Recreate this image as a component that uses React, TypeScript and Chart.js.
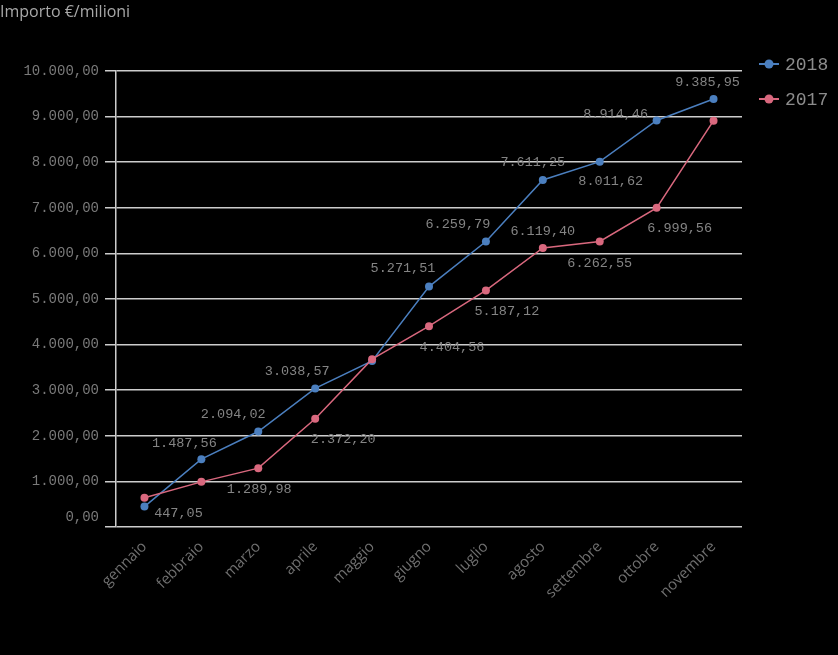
import { useEffect, useRef } from 'react';
import { Chart, registerables } from 'chart.js';
Chart.register(...registerables);

const months = ['gennaio', 'febbraio', 'marzo', 'aprile', 'maggio', 'giugno', 'luglio', 'agosto', 'settembre', 'ottobre', 'novembre'];
const values2018 = [447.05, 1487.56, 2094.02, 3038.57, 3640, 5271.51, 6259.79, 7611.25, 8011.62, 8914.46, 9385.95];
const values2017 = [640, 990, 1289.98, 2372.2, 3680, 4404.56, 5187.12, 6119.4, 6262.55, 6999.56, 8910];
const seriesNames = ['2018', '2017'];
const yTicks = [0, 1000, 2000, 3000, 4000, 5000, 6000, 7000, 8000, 9000, 10000];
const titleText = 'Importo €/milioni';

const BLUE = '#4b7fbf';
const RED = '#d9687e';
const GRID = '#cdcdcd';
const TEXT = '#7a7a7a';
const MONO = '"Liberation Mono", "DejaVu Sans Mono", monospace';
const SANS = '"Open Sans", "Noto Sans", sans-serif';

function fmt(v: number): string {
  const [i, d] = v.toFixed(2).split('.');
  return i.replace(/\B(?=(\d{3})+(?!\d))/g, '.') + ',' + d;
}

// label placement (text centre offset from point, px); missing index = no label
const labelOffsets: Array<Record<number, [number, number]>> = [
  { 0: [34, 7], 1: [-17, -16], 2: [-25, -17], 3: [-18, -17], 5: [-26, -18], 6: [-28, -17], 7: [-10, -18], 8: [11, 20], 9: [-41, -6], 10: [-6, -17] },
  { 2: [1, 21], 3: [28, 21], 5: [23, 21], 6: [21, 21], 7: [0, -17], 8: [0, 22], 9: [23, 21] },
];

const overlay = {
  id: 'overlay',
  afterDatasetsDraw(chart: any) {
    const ctx = chart.ctx;
    ctx.save();
    ctx.font = `13.5px ${MONO}`;
    ctx.fillStyle = '#848484';
    ctx.textAlign = 'center';
    ctx.textBaseline = 'middle';
    chart.data.datasets.forEach((ds: any, di: number) => {
      const meta = chart.getDatasetMeta(di);
      const offs = labelOffsets[di];
      meta.data.forEach((pt: any, i: number) => {
        const o = offs[i];
        if (!o) return;
        ctx.fillText(fmt(ds.data[i]), pt.x + o[0], pt.y + o[1]);
      });
    });
    ctx.restore();
  },
  afterDraw(chart: any) {
    const ctx = chart.ctx;
    const ys = chart.scales.y;
    const area = chart.chartArea;
    ctx.save();
    // title
    ctx.font = `16px ${SANS}`;
    ctx.fillStyle = '#a8a8a8';
    ctx.textAlign = 'left';
    ctx.textBaseline = 'middle';
    ctx.fillText(titleText, 0, 12);
    // y tick labels
    ctx.font = `14px ${MONO}`;
    ctx.fillStyle = TEXT;
    ctx.textAlign = 'right';
    yTicks.forEach((t) => {
      const y = Math.min(ys.getPixelForValue(t), area.bottom - 10);
      ctx.fillText(fmt(t), area.left - 17, y);
    });
    // legend
    const colors = [BLUE, RED];
    seriesNames.forEach((name, i) => {
      const y = 64 + i * 35;
      ctx.strokeStyle = colors[i];
      ctx.lineWidth = 2;
      ctx.beginPath();
      ctx.moveTo(759, y);
      ctx.lineTo(779, y);
      ctx.stroke();
      ctx.fillStyle = colors[i];
      ctx.beginPath();
      ctx.arc(769, y, 4.5, 0, Math.PI * 2);
      ctx.fill();
      ctx.font = `18px ${MONO}`;
      ctx.fillStyle = '#8c8c8c';
      ctx.textAlign = 'left';
      ctx.fillText(name, 785, y + 1);
    });
    ctx.restore();
  },
};

export default function App() {
  const ref = useRef<HTMLCanvasElement>(null);
  useEffect(() => {
    document.body.style.background = '#000';
    const chart = new Chart(ref.current!, {
      type: 'line',
      data: {
        labels: months,
        datasets: [
          {
            label: seriesNames[0],
            data: values2018,
            borderColor: BLUE,
            backgroundColor: BLUE,
            borderWidth: 1.5,
            pointRadius: 4,
            pointBorderWidth: 0,
            tension: 0,
            order: 1,
          },
          {
            label: seriesNames[1],
            data: values2017,
            borderColor: RED,
            backgroundColor: RED,
            borderWidth: 1.5,
            pointRadius: 4,
            pointBorderWidth: 0,
            tension: 0,
            order: 0,
          },
        ],
      },
      options: {
        animation: false,
        responsive: false,
        devicePixelRatio: 1,
        layout: { padding: { left: 0, top: 71, right: 96, bottom: 0 } },
        plugins: { legend: { display: false }, title: { display: false }, tooltip: { enabled: false } },
        scales: {
          x: {
            offset: true,
            grid: { display: false },
            border: { display: false },
            ticks: {
              color: '#707070',
              font: { family: SANS, size: 15 },
              maxRotation: 45,
              minRotation: 45,
              padding: 3,
            },
            afterFit: (s: any) => { s.height = 128; },
          },
          y: {
            min: 0,
            max: 10000,
            afterBuildTicks: (s: any) => { s.ticks = yTicks.map((v) => ({ value: v })); },
            grid: { color: GRID, lineWidth: 1.5, tickLength: 11, drawTicks: true },
            border: { display: true, color: GRID, width: 1.5 },
            ticks: { display: false },
            afterFit: (s: any) => { s.width = 116; },
          },
        },
      },
      plugins: [overlay],
    });
    return () => chart.destroy();
  }, []);
  return (
    <div style={{ position: 'fixed', left: 0, top: 0, width: 838, height: 655, background: '#000' }}>
      <canvas ref={ref} width={838} height={655} />
    </div>
  );
}
